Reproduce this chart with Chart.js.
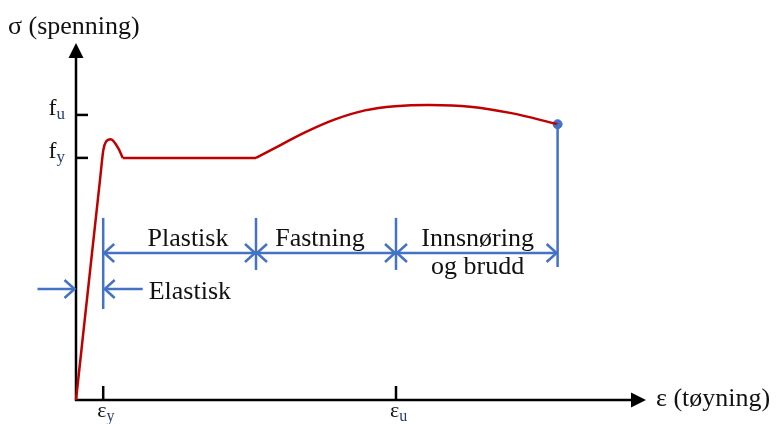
<!DOCTYPE html>
<html>
<head>
<meta charset="utf-8">
<script src="https://cdn.jsdelivr.net/npm/chart.js@4/dist/chart.umd.min.js"></script>
<style>
  html, body { margin: 0; padding: 0; background: #fff; }
  #wrap { width: 776px; height: 424px; position: relative; }
</style>
</head>
<body>
<div id="wrap"><canvas id="curve"></canvas></div>
<script>
// stress-strain curve (strain in permille, stress in MPa), one array pair per stage
const elasticStrain = [0, 1.5, 1.71, 1.875, 2.17, 2.64, 2.92];
const elasticStress = [0, 322.7, 366.7, 378.9, 382.4, 369.2, 355];
const plateauStrain = [2.92, 11.25];
const plateauStress = [355, 355];
const hardStrain = [11.25, 12.75, 14.31, 16.19, 18.06, 19.94, 22.13, 24.63, 27.13, 30.1];
const hardStress = [355, 373.3, 392.4, 411.5, 424.7, 430.8, 432.7, 430.1, 421.0, 404.4];

// axis ticks
const yTickValues = [355, 418];
const yTickSubs = ['y', 'u'];
const xTickValues = [1.7, 20];
const xTickSubs = ['y', 'u'];

// phase boundaries along the strain axis
const phaseBounds = [1.7, 11.25, 20, 30.1];
const phaseNames = [['Plastisk'], ['Fastning'], ['Innsnøring', 'og brudd']];
const phaseLabelX = [7.0, 15.25, 25.1];

const BLUE = '#4472c4';
const RED = '#c00000';
const NAVY = '#263c6e';
const SERIF = '"Liberation Serif", "Times New Roman", serif';

const toPoints = (xs, ys) => xs.map((x, i) => ({ x: x, y: ys[i] }));
const fracture = [{ x: hardStrain[hardStrain.length - 1], y: hardStress[hardStress.length - 1] }];

function curveSet(points, smooth) {
  const ds = {
    data: points,
    borderColor: RED,
    borderWidth: 2.5,
    pointRadius: 0,
    fill: false,
    clip: false
  };
  if (smooth) {
    ds.tension = 0.4;
  } else {
    ds.cubicInterpolationMode = 'monotone';
  }
  return ds;
}

function openHead(ctx, x, y, dir) {
  // dir: +1 points right, -1 points left
  ctx.beginPath();
  ctx.moveTo(x - dir * 10, y - 9);
  ctx.lineTo(x, y);
  ctx.lineTo(x - dir * 10, y + 9);
  ctx.stroke();
}

function line(ctx, x1, y1, x2, y2) {
  ctx.beginPath();
  ctx.moveTo(x1, y1);
  ctx.lineTo(x2, y2);
  ctx.stroke();
}

function subText(ctx, main, sub, x, y, size, align) {
  ctx.font = size + 'px ' + SERIF;
  const w1 = ctx.measureText(main).width;
  ctx.font = Math.round(size * 0.72) + 'px ' + SERIF;
  const w2 = ctx.measureText(sub).width;
  let left = x;
  if (align === 'right') left = x - w1 - w2;
  if (align === 'center') left = x - (w1 + w2) / 2;
  ctx.textAlign = 'left';
  ctx.fillStyle = '#111';
  ctx.font = size + 'px ' + SERIF;
  ctx.fillText(main, left, y);
  ctx.fillStyle = NAVY;
  ctx.font = Math.round(size * 0.72) + 'px ' + SERIF;
  ctx.fillText(sub, left + w1, y + 4);
}

const axesPlugin = {
  id: 'axes',
  beforeDatasetsDraw(chart) {
    const ctx = chart.ctx;
    const a = chart.chartArea;
    const xs = chart.scales.x, ys = chart.scales.y;
    const ox = xs.getPixelForValue(0), oy = ys.getPixelForValue(0);
    ctx.save();
    ctx.strokeStyle = '#000';
    ctx.fillStyle = '#000';
    ctx.lineWidth = 2.5;
    line(ctx, ox, oy + 1, ox, a.top + 10);
    line(ctx, ox - 1, oy, a.right - 10, oy);
    // arrow tips
    ctx.beginPath();
    ctx.moveTo(ox, a.top - 1);
    ctx.lineTo(ox - 7.5, a.top + 14);
    ctx.lineTo(ox + 7.5, a.top + 14);
    ctx.closePath();
    ctx.fill();
    ctx.beginPath();
    ctx.moveTo(a.right + 2, oy);
    ctx.lineTo(a.right - 13, oy - 7.5);
    ctx.lineTo(a.right - 13, oy + 7.5);
    ctx.closePath();
    ctx.fill();
    // ticks
    yTickValues.forEach((v, i) => {
      const py = ys.getPixelForValue(v);
      line(ctx, ox, py, ox + 12, py);
      subText(ctx, 'f', yTickSubs[i], ox - 11, py + 0, 24, 'right');
    });
    xTickValues.forEach((v, i) => {
      const px = xs.getPixelForValue(v);
      line(ctx, px, oy, px, oy - 14);
      subText(ctx, 'ε', xTickSubs[i], px - 6, oy + 17, 22, 'left');
    });
    // axis titles
    ctx.fillStyle = '#111';
    ctx.textAlign = 'left';
    ctx.font = '26px ' + SERIF;
    ctx.fillText('σ (spenning)', ox - 68, a.top - 10);
    ctx.fillText('ε (tøyning)', a.right + 12, oy + 6);
    ctx.restore();
  }
};

const phasePlugin = {
  id: 'phases',
  afterDatasetsDraw(chart) {
    const ctx = chart.ctx;
    const xs = chart.scales.x, ys = chart.scales.y;
    const dimY = ys.getPixelForValue(215.6);
    const topY = ys.getPixelForValue(267);
    ctx.save();
    ctx.strokeStyle = BLUE;
    ctx.lineWidth = 2.5;
    // extension lines
    const bottoms = [133.5, 190.7, 190.7, fracture[0].y];
    phaseBounds.forEach((b, i) => {
      const px = xs.getPixelForValue(b);
      if (i === phaseBounds.length - 1) {
        line(ctx, px, ys.getPixelForValue(bottoms[i]), px, ys.getPixelForValue(195));
      } else {
        line(ctx, px, topY, px, ys.getPixelForValue(bottoms[i]));
      }
    });
    // dimension arrows between bounds
    for (let i = 0; i < phaseBounds.length - 1; i++) {
      const x1 = xs.getPixelForValue(phaseBounds[i]) + 1;
      const x2 = xs.getPixelForValue(phaseBounds[i + 1]) - 1;
      line(ctx, x1, dimY, x2, dimY);
      openHead(ctx, x1, dimY, -1);
      openHead(ctx, x2, dimY, 1);
    }
    // elastic range, arrows pointing inward
    const eY = ys.getPixelForValue(162.8);
    const e0 = xs.getPixelForValue(0) - 1.5;
    const e1 = xs.getPixelForValue(phaseBounds[0]) + 1.5;
    line(ctx, e0 - 37, eY, e0, eY);
    openHead(ctx, e0, eY, 1);
    line(ctx, e1 + 38, eY, e1, eY);
    openHead(ctx, e1, eY, -1);

    // labels
    ctx.fillStyle = '#111';
    ctx.textAlign = 'center';
    ctx.font = '26px ' + SERIF;
    phaseNames.forEach((rows, i) => {
      const px = xs.getPixelForValue(phaseLabelX[i]);
      rows.forEach((t, r) => ctx.fillText(t, px, dimY - 7 + r * 28));
    });
    ctx.textAlign = 'left';
    ctx.fillText('Elastisk', e1 + 44, eY + 10);
    ctx.restore();
  }
};

new Chart(document.getElementById('curve'), {
  type: 'line',
  data: {
    datasets: [
      curveSet(toPoints(elasticStrain, elasticStress), false),
      curveSet(toPoints(plateauStrain, plateauStress), false),
      curveSet(toPoints(hardStrain, hardStress), true),
      {
        data: fracture,
        showLine: false,
        pointRadius: 4.5,
        backgroundColor: BLUE,
        borderColor: BLUE,
        clip: false
      }
    ]
  },
  options: {
    animation: false,
    responsive: true,
    maintainAspectRatio: false,
    events: [],
    layout: { padding: { left: 76, right: 132, top: 44, bottom: 24 } },
    scales: {
      x: { type: 'linear', min: 0, max: 35.5, display: false },
      y: { type: 'linear', min: 0, max: 522, display: false }
    },
    plugins: { legend: { display: false }, tooltip: { enabled: false } }
  },
  plugins: [axesPlugin, phasePlugin]
});
</script>
</body>
</html>
